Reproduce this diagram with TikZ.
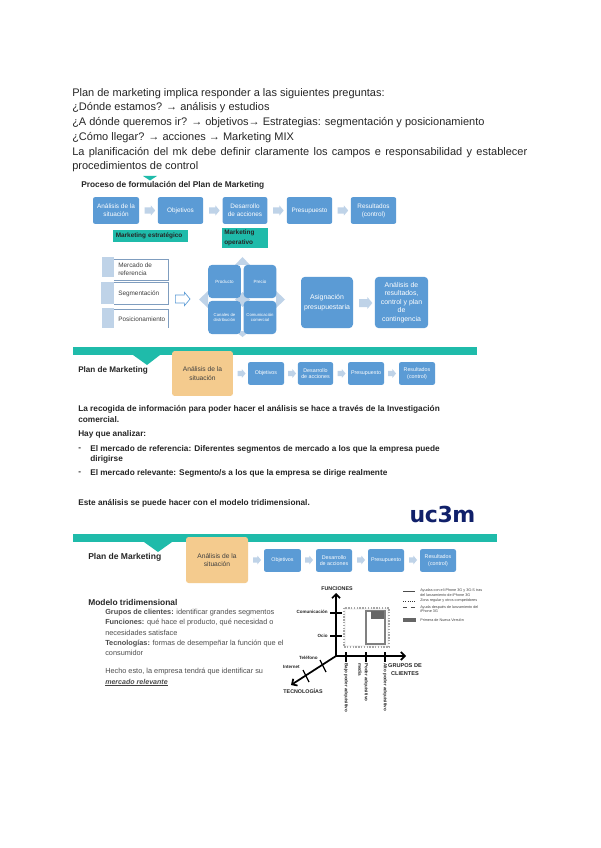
\documentclass[tikz,border=0pt]{standalone}
\usepackage{fontspec}
\setmainfont{Liberation Sans}
\newfontfamily\ucfont[LetterSpace=-2]{DejaVu Sans}
\usetikzlibrary{shapes.arrows,arrows.meta}
\definecolor{tealc}{HTML}{1FBBAA}
\definecolor{blueb}{HTML}{5B9BD5}
\definecolor{paleb}{HTML}{BFD3E8}
\definecolor{orangeb}{HTML}{F4CB8E}
\definecolor{navyu}{HTML}{10206A}
\definecolor{listb}{HTML}{7F9DBF}
\newcommand{\shaftA}{\rule{0pt}{4.4pt}}
\newcommand{\shaftB}{\rule{0pt}{3.4pt}}
\newcommand{\shaftC}{\rule{0pt}{5.6pt}}
\tikzset{
  px/.style={x=0.75pt,y=-0.75pt},
  bodytext/.style={anchor=west,inner sep=0,font=\fontsize{8.25}{10}\selectfont,text=black!85},
  slidetext/.style={anchor=west,inner sep=0,font=\bfseries\fontsize{6.2}{7.5}\selectfont,text=black!85},
  slidelight/.style={anchor=west,inner sep=0,font=\fontsize{5.5}{7}\selectfont,text=black!70},
  bluebox/.style={fill=blueb,draw=none,rounded corners=1.5pt,text=white,align=center,inner sep=0,font=\fontsize{4.8}{6}\selectfont},
  orangebox/.style={fill=orangeb,draw=none,rounded corners=2pt,text=black!75,align=center,inner sep=0,font=\fontsize{5}{6.5}\selectfont},
  tealbox/.style={fill=tealc,draw=none,text=black!85,inner sep=0,font=\bfseries\fontsize{4.8}{7}\selectfont,align=left},
  palearrow/.style={fill=paleb,draw=none,single arrow,single arrow head extend=1.4pt,single arrow tip angle=100,minimum height=8pt,inner sep=0},
  listtab/.style={fill=paleb,draw=none},
  listline/.style={draw=listb,line width=0.4pt},
  listlabel/.style={anchor=west,inner sep=0,align=left,font=\fontsize{4.8}{6}\selectfont,text=black!75},
  axisline/.style={line width=1.3pt,draw=black},
  axishead/.style={line width=1.3pt,draw=black,-{Straight Barb[length=3pt,width=6pt]}},
  tick/.style={line width=1pt,draw=black},
  chartlabel/.style={inner sep=0,font=\bfseries\fontsize{3.4}{4.2}\selectfont,text=black!85,align=center},
  legendlabel/.style={anchor=west,inner sep=0,align=left,font=\fontsize{2.8}{3.3}\selectfont,text=black!75},
}
\begin{document}
\begin{tikzpicture}[px]
\useasboundingbox (0,0) rectangle (600,848);
\fill[white] (0,0) rectangle (600,848);

% intro text
\node[bodytext] (t1) at (72,93.5) {Plan de marketing implica responder a las siguientes preguntas:};
\node[bodytext] (t2) at (72,108) {¿Dónde estamos? → análisis y estudios};
\node[bodytext] (t3) at (72,123) {¿A dónde queremos ir? → objetivos→ Estrategias: segmentación y posicionamiento};
\node[bodytext] (t4) at (72,138) {¿Cómo llegar? → acciones → Marketing MIX};
\node[bodytext] (t5) at (72,152.5) {\makebox[341.3pt][s]{La planificación del mk debe definir claramente los campos e responsabilidad y establecer}};
\node[bodytext] (t6) at (72,167) {procedimientos de control};

% slide 1
\fill[tealc] (143,176) -- (157,176) -- (150,180.5) -- cycle;
\node[anchor=west,inner sep=0,font=\bfseries\fontsize{6.25}{8}\selectfont,text=black!85] (s1t) at (81,185) {Proceso de formulación del Plan de Marketing};
\node[bluebox,minimum width=34.5pt,minimum height=20pt] (a1) at (116,210.5) {Análisis de la\\situación};
\node[bluebox,minimum width=34pt,minimum height=20pt] (a2) at (180.5,210.5) {Objetivos};
\node[bluebox,minimum width=33.5pt,minimum height=20pt] (a3) at (245,210.5) {Desarrollo\\de acciones};
\node[bluebox,minimum width=34pt,minimum height=20pt] (a4) at (309.5,210.5) {Presupuesto};
\node[bluebox,minimum width=34pt,minimum height=20pt] (a5) at (373.5,210.5) {Resultados\\(control)};
\node[palearrow] (p1) at (148.5,210.5) {\shaftA};
\node[palearrow] (p2) at (213,210.5) {\shaftA};
\node[palearrow] (p3) at (277,210.5) {\shaftA};
\node[palearrow] (p4) at (341.5,210.5) {\shaftA};
\node[tealbox,minimum width=56pt,minimum height=9pt,text width=52pt] (m1) at (150.5,236) {Marketing estratégico};
\node[tealbox,minimum width=34.5pt,minimum height=15pt,text width=31pt] (m2) at (245,238) {Marketing\\operativo};

% list
\fill[listtab] (102,257) rectangle (114,277);
\fill[listtab] (101,282) rectangle (114,304);
\fill[listtab] (102,308) rectangle (114,328);
\draw[listline] (114,259) -- (168,259) -- (168,280) -- (114,280);
\draw[listline] (114,282) -- (168,282) -- (168,304) -- (114,304);
\draw[listline] (114,309) -- (168,309) -- (168,328);
\node[listlabel] (l1) at (118,269) {Mercado de\\referencia};
\node[listlabel] (l2) at (118,294) {Segmentación};
\node[listlabel] (l3) at (118,319) {Posicionamiento};
\node[single arrow,draw=blueb,fill=white,line width=0.5pt,single arrow head extend=2pt,single arrow tip angle=100,minimum height=11pt,inner sep=0] (la) at (181,299) {\shaftC};

% matrix
\fill[paleb] (242.5,257) -- (250,265) -- (235,265) -- cycle;
\fill[paleb] (199,299.5) -- (208,291) -- (208,308) -- cycle;
\fill[paleb] (285,299.5) -- (276,291) -- (276,308) -- cycle;
\fill[paleb] (242.5,337) -- (250,331) -- (235,331) -- cycle;
\fill[paleb] (235,299.5) -- (242.5,292) -- (250,299.5) -- (242.5,307) -- cycle;
\node[bluebox,minimum width=24.5pt,minimum height=25pt,rounded corners=3pt,font=\fontsize{3.4}{4.2}\selectfont] (c1) at (224.5,281.5) {Producto};
\node[bluebox,minimum width=24.5pt,minimum height=25pt,rounded corners=3pt,font=\fontsize{3.4}{4.2}\selectfont] (c2) at (260,281.5) {Precio};
\node[bluebox,minimum width=24.5pt,minimum height=25pt,rounded corners=3pt,font=\fontsize{3.2}{4}\selectfont] (c3) at (224.5,317.5) {Canales de\\distribución};
\node[bluebox,minimum width=24.5pt,minimum height=25pt,rounded corners=3pt,font=\fontsize{3.2}{4}\selectfont] (c4) at (260,317.5) {Comunicación\\comercial};

\node[bluebox,minimum width=39pt,minimum height=38.5pt,rounded corners=3pt,font=\fontsize{5.2}{7}\selectfont] (b1) at (327,302.5) {Asignación\\presupuestaria};
\node[palearrow,minimum height=10pt] (p5) at (364,303) {\shaftC};
\node[bluebox,minimum width=40pt,minimum height=38.5pt,rounded corners=3pt,font=\fontsize{5.2}{6.3}\selectfont] (b2) at (401.5,302.5) {Análisis de\\resultados,\\control y plan\\de\\contingencia};

% slide 2
\fill[tealc] (73,347) rectangle (477,355);
\fill[tealc] (133,355) -- (160,355) -- (147,365) -- cycle;
\node[slidetext,font=\bfseries\fontsize{6.1}{8}\selectfont] (s2t) at (78,370) {Plan de Marketing};
\node[orangebox,minimum width=45.7pt,minimum height=33.7pt] (o2) at (202.5,373.5) {Análisis de la\\situación};
\node[bluebox,minimum width=27pt,minimum height=17pt,font=\fontsize{4}{5}\selectfont] (d1) at (266,373.5) {Objetivos};
\node[bluebox,minimum width=26.3pt,minimum height=17pt,font=\fontsize{4}{5}\selectfont] (d2) at (315.5,373.5) {Desarrollo\\de acciones};
\node[bluebox,minimum width=27pt,minimum height=17pt,font=\fontsize{4}{5}\selectfont] (d3) at (366,373.5) {Presupuesto};
\node[bluebox,minimum width=27pt,minimum height=17pt,font=\fontsize{4}{5}\selectfont] (d4) at (417,373.5) {Resultados\\(control)};
\node[palearrow,minimum height=6pt] (q1) at (240.5,373.5) {\shaftB};
\node[palearrow,minimum height=6pt] (q2) at (291,373.5) {\shaftB};
\node[palearrow,minimum height=6pt] (q3) at (340.5,373.5) {\shaftB};
\node[palearrow,minimum height=6pt] (q4) at (391,373.5) {\shaftB};
\node[slidetext] (r1) at (78,409) {La recogida de información para poder hacer el análisis se hace a través de la Investigación};
\node[slidetext] (r2) at (78,420) {comercial.};
\node[slidetext] (r3) at (78,434) {Hay que analizar:};
\node[slidetext] (r4a) at (78,449) {-};
\node[slidetext] (r4) at (90,449) {El mercado de referencia: Diferentes segmentos de mercado a los que la empresa puede};
\node[slidetext] (r5) at (90,459) {dirigirse};
\node[slidetext] (r6a) at (78,473) {-};
\node[slidetext] (r6) at (90,473) {El mercado relevante: Segmento/s a los que la empresa se dirige realmente};
\node[slidetext] (r7) at (78,503) {Este análisis se puede hacer con el modelo tridimensional.};
\node[inner sep=0,font=\ucfont\bfseries\fontsize{16.5}{18}\selectfont,text=navyu] (uc) at (442.5,514) {uc3m};

% slide 3
\fill[tealc] (73,534) rectangle (497,542);
\fill[tealc] (144,542) -- (172,542) -- (158,552) -- cycle;
\node[slidetext,font=\bfseries\fontsize{6.4}{8}\selectfont] (s3t) at (88,557) {Plan de Marketing};
\node[orangebox,minimum width=46.5pt,minimum height=34.5pt] (o3) at (217,560) {Análisis de la\\situación};
\node[bluebox,minimum width=27.7pt,minimum height=17pt,font=\fontsize{4}{5}\selectfont] (e1) at (282.5,560.5) {Objetivos};
\node[bluebox,minimum width=27pt,minimum height=17pt,font=\fontsize{4}{5}\selectfont] (e2) at (334,560.5) {Desarrollo\\de acciones};
\node[bluebox,minimum width=27pt,minimum height=17pt,font=\fontsize{4}{5}\selectfont] (e3) at (386,560.5) {Presupuesto};
\node[bluebox,minimum width=27pt,minimum height=17pt,font=\fontsize{4}{5}\selectfont] (e4) at (438,560.5) {Resultados\\(control)};
\node[palearrow,minimum height=6pt] (g0) at (256,560) {\shaftB};
\node[palearrow,minimum height=6pt] (g1) at (308,560) {\shaftB};
\node[palearrow,minimum height=6pt] (g2) at (360,560) {\shaftB};
\node[palearrow,minimum height=6pt] (g3) at (412,560) {\shaftB};
\node[slidetext,font=\bfseries\fontsize{6.3}{8}\selectfont] (h) at (88,602) {Modelo tridimensional};
\node[slidelight] (u1) at (105,613) {\textbf{Grupos de clientes:} identificar grandes segmentos};
\node[slidelight] (u2) at (105,623) {\textbf{Funciones:} qué hace el producto, qué necesidad o};
\node[slidelight] (u3) at (105,633) {necesidades satisface};
\node[slidelight] (u4) at (105,643.5) {\textbf{Tecnologías:} formas de desempeñar la función que el};
\node[slidelight] (u5) at (105,653) {consumidor};
\node[slidelight] (u6) at (105,672) {Hecho esto, la empresa tendrá que identificar su};
\node[slidelight,font=\bfseries\itshape\fontsize{5.3}{7}\selectfont] (u7) at (105,682) {mercado relevante};
\draw[line width=0.5pt,black!75] (u7.south west) -- (u7.south east);

% chart
\coordinate (o) at (336,656);
\coordinate (ytop) at (336,593);
\coordinate (xend) at (406,656);
\coordinate (zend) at (291,685);
\fill[gray!8] (344,608) rectangle (389,647);
\fill[white] (346,610) rectangle (387,645);
\draw[black!35,densely dotted,line width=1.1pt] (344,608) rectangle (389,647);
\draw[black!50,line width=0.9pt] (366,611) -- (366,644) -- (385,644) -- (385,611) -- cycle;
\fill[black!60] (371,611) rectangle (384,619);
\draw[axishead] (o) -- (ytop);
\draw[axishead] (o) -- (xend);
\draw[axishead] (o) -- (zend);
\draw[tick] (330,613) -- (342,613);
\draw[tick] (330,636) -- (342,636);
\draw[tick] (346,652) -- (346,662);
\draw[tick] (366,652) -- (366,662);
\draw[tick] (385,652) -- (385,662);
\draw[tick] (320,660) -- (326,672);
\draw[tick] (303,670) -- (309,682);
\node[chartlabel,font=\bfseries\fontsize{4}{5}\selectfont] (fn) at (337,589) {FUNCIONES};
\node[chartlabel,anchor=east] (cm) at (328,612) {Comunicación};
\node[chartlabel,anchor=east] (oc) at (328,636) {Ocio};
\node[chartlabel,anchor=east] (te) at (318,657.5) {Teléfono};
\node[chartlabel,anchor=east] (in) at (300,667) {Internet};
\node[chartlabel,font=\bfseries\fontsize{4}{5}\selectfont] (tc) at (303,691) {TECNOLOGÍAS};
\node[chartlabel,font=\bfseries\fontsize{4.2}{5.6}\selectfont] (gc) at (405,669.5) {GRUPOS DE\\CLIENTES};
\node[chartlabel,rotate=-90,anchor=west] (v1) at (346,663) {Bajo poder adquisitivo};
\node[chartlabel,rotate=-90,anchor=west] (v2) at (366,663) {Poder adquisitivo};
\node[chartlabel,rotate=-90,anchor=west] (v2b) at (360,663) {media};
\node[chartlabel,rotate=-90,anchor=west] (v3) at (385,663) {Alto poder adquisitivo};
\coordinate (la1) at (403,591);
\coordinate (lb1) at (415,591);
\coordinate (la2) at (403,601);
\coordinate (lb2) at (415,601);
\coordinate (la3) at (403,607.5);
\coordinate (lb3) at (415,607.5);
\draw[black!70,line width=0.5pt] (la1) -- (lb1);
\draw[black!80,line width=0.7pt,densely dotted] (la2) -- (lb2);
\draw[black!70,line width=0.5pt,dashed] (la3) -- (lb3);
\fill[black!60] (403,618) rectangle (416,621.5);
\node[legendlabel] (x1) at (420,592.5) {Ayudas con el iPhone 3G y 3G-S tras\\del lanzamiento de iPhone 3G};
\node[legendlabel] (x2) at (420,601) {Zona regular y otros competidores};
\node[legendlabel] (x3) at (420,609) {Ayuda después de lanzamiento del\\iPhone 3G};
\node[legendlabel] (x4) at (420,620) {Primera de Nueva Versión};
\end{tikzpicture}
\end{document}
